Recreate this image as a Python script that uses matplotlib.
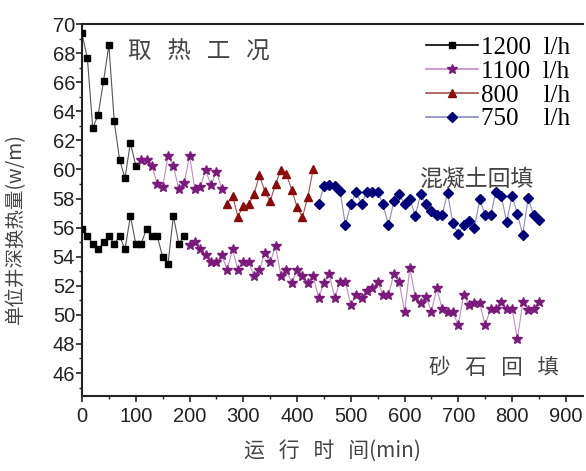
import matplotlib
matplotlib.use("Agg")
import matplotlib.pyplot as plt
from matplotlib.lines import Line2D
from matplotlib.ticker import MultipleLocator

# 1200 l/h, heat extraction (upper run) and sand backfill (lower run)
t_1200_up = list(range(0, 101, 10))
q_1200_up = [69.35, 67.65, 62.85, 63.75, 66.05, 68.55, 63.3, 60.65, 59.4, 61.85, 60.25]
t_1200_low = list(range(0, 191, 10))
q_1200_low = [55.9, 55.4, 54.9, 54.5, 55.0, 55.4, 54.9, 55.4, 54.5, 56.8,
              54.9, 54.9, 55.9, 55.4, 55.4, 54.0, 53.5, 56.8, 54.9, 55.4]

# 1100 l/h
t_1100_up = list(range(110, 261, 10))
q_1100_up = [60.67, 60.67, 60.25, 59.0, 58.8, 60.9, 60.25, 58.65, 59.05, 60.95,
             58.65, 58.8, 59.95, 58.9, 59.85, 58.65]
t_1100_low = list(range(200, 851, 10))
q_1100_low = [54.8, 55.0, 54.5, 54.1, 53.6, 53.6, 54.1, 53.1, 54.5, 53.1,
              53.6, 53.6, 52.7, 53.1, 54.25, 53.6, 54.75, 52.7, 53.1, 52.2,
              53.1, 52.7, 52.2,
              52.69, 51.18, 52.17, 52.78, 51.18, 52.28, 52.28, 50.68, 51.36, 51.13,
              51.64, 51.82, 52.28, 51.36, 51.36, 52.78, 52.28, 50.22, 53.2, 51.25,
              50.79, 51.25, 50.22, 51.82, 50.40, 50.22, 50.17, 49.3, 51.36, 50.68,
              50.79, 50.79, 49.3, 50.40, 50.40, 50.86, 50.40, 50.40, 48.34, 50.86,
              50.33, 50.40, 50.86]

# 800 l/h
t_800 = list(range(270, 431, 10))
q_800 = [57.6, 58.2, 56.75, 57.5, 57.6, 58.3, 59.6, 58.5, 57.8, 59.0,
         59.95, 59.7, 58.6, 57.45, 56.7, 58.1, 60.0]

# 750 l/h
t_750 = list(range(440, 851, 10))
q_750 = [57.6, 58.85, 58.95, 58.85, 58.55, 56.15, 57.6, 58.45, 57.6, 58.45,
         58.45, 58.45, 57.6, 56.15, 57.8, 58.3, 57.6, 57.95, 56.8, 58.3,
         57.6, 57.15, 56.9, 56.85, 58.4, 56.3, 55.55, 56.2, 56.45, 56.0,
         57.95, 56.85, 56.85, 58.45, 58.15, 56.4, 58.15, 56.95, 55.5, 58.05,
         56.85, 56.55]

labels = ["1200  l/h", "1100  l/h", "800    l/h", "750    l/h"]
colors = ["#000000", "#7a1a7a", "#8b0a0a", "#00007a"]
line_colors = ["#555555", "#c58ac5", "#a05050", "#8a8ac8"]
markers = ["s", "*", "^", "D"]
msizes = [5, 7.5, 6, 5]

cjk = ["Noto Sans CJK SC", "DejaVu Sans"]
serif = ["Liberation Serif", "DejaVu Serif"]
sans = ["Liberation Sans", "DejaVu Sans"]

fig = plt.figure(figsize=(5.86, 4.71), dpi=100)
ax = fig.add_axes([82 / 586, 1 - 396 / 471, (583 - 82) / 586, (396 - 24) / 471])

series = [
    (0, t_1200_up, q_1200_up), (0, t_1200_low, q_1200_low),
    (1, t_1100_up, q_1100_up), (1, t_1100_low, q_1100_low),
    (2, t_800, q_800), (3, t_750, q_750),
]
for i, t, q in series:
    ax.plot(t, q, "-", color=line_colors[i], lw=0.8, zorder=2)
    ax.plot(t, q, linestyle="none", marker=markers[i], ms=msizes[i],
            color=colors[i], mec=colors[i], zorder=3)

ax.set_xlim(0, 932)
ax.set_ylim(44.42, 70)
ax.xaxis.set_major_locator(MultipleLocator(100))
ax.xaxis.set_minor_locator(MultipleLocator(50))
ax.yaxis.set_major_locator(MultipleLocator(2))
ax.yaxis.set_minor_locator(MultipleLocator(1))
ax.set_yticks(range(46, 71, 2))
ax.tick_params(which="major", direction="out", length=4, width=1.2, colors="#222222",
               labelsize=14.5)
ax.tick_params(which="minor", direction="out", length=2.5, width=1.0, colors="#222222")
for lab in ax.get_xticklabels() + ax.get_yticklabels():
    lab.set_family(sans)
ax.tick_params(axis="x", pad=4)
ax.tick_params(axis="y", pad=1)

for s in ["left", "bottom", "top"]:
    ax.spines[s].set_linewidth(1.5)
    ax.spines[s].set_color("#222222")
ax.spines["right"].set_visible(False)

ax.set_xlabel("运   行   时   间(min)", family=cjk, fontsize=15, color="#444444", labelpad=10)
ax.set_ylabel("单位井深换热量(w/m)", family=cjk, fontsize=14, color="#444444")
ax.yaxis.set_label_coords(-0.112, 0.45)

ax.text(85, 68.07, "取   热   工   况", family=cjk, fontsize=17, color="#444444",
        ha="left", va="center")
ax.text(629, 59.37, "混凝土回填", family=cjk, fontsize=16.5, color="#444444",
        ha="left", va="center")
ax.text(645, 46.34, "砂   石   回   填", family=cjk, fontsize=15.5, color="#444444",
        ha="left", va="center")

handles = [Line2D([], [], color=line_colors[i] if i else "#000000", lw=1.2,
                  marker=markers[i], ms=msizes[i], mfc=colors[i], mec=colors[i])
           for i in range(4)]
ax.legend(handles, labels, loc="upper right", frameon=False,
          prop={"family": serif, "size": 18}, handlelength=2.1, handletextpad=0.12,
          labelspacing=0.05, borderaxespad=0.1, bbox_to_anchor=(1.0, 1.0))

fig.savefig("out.png", dpi=100)
